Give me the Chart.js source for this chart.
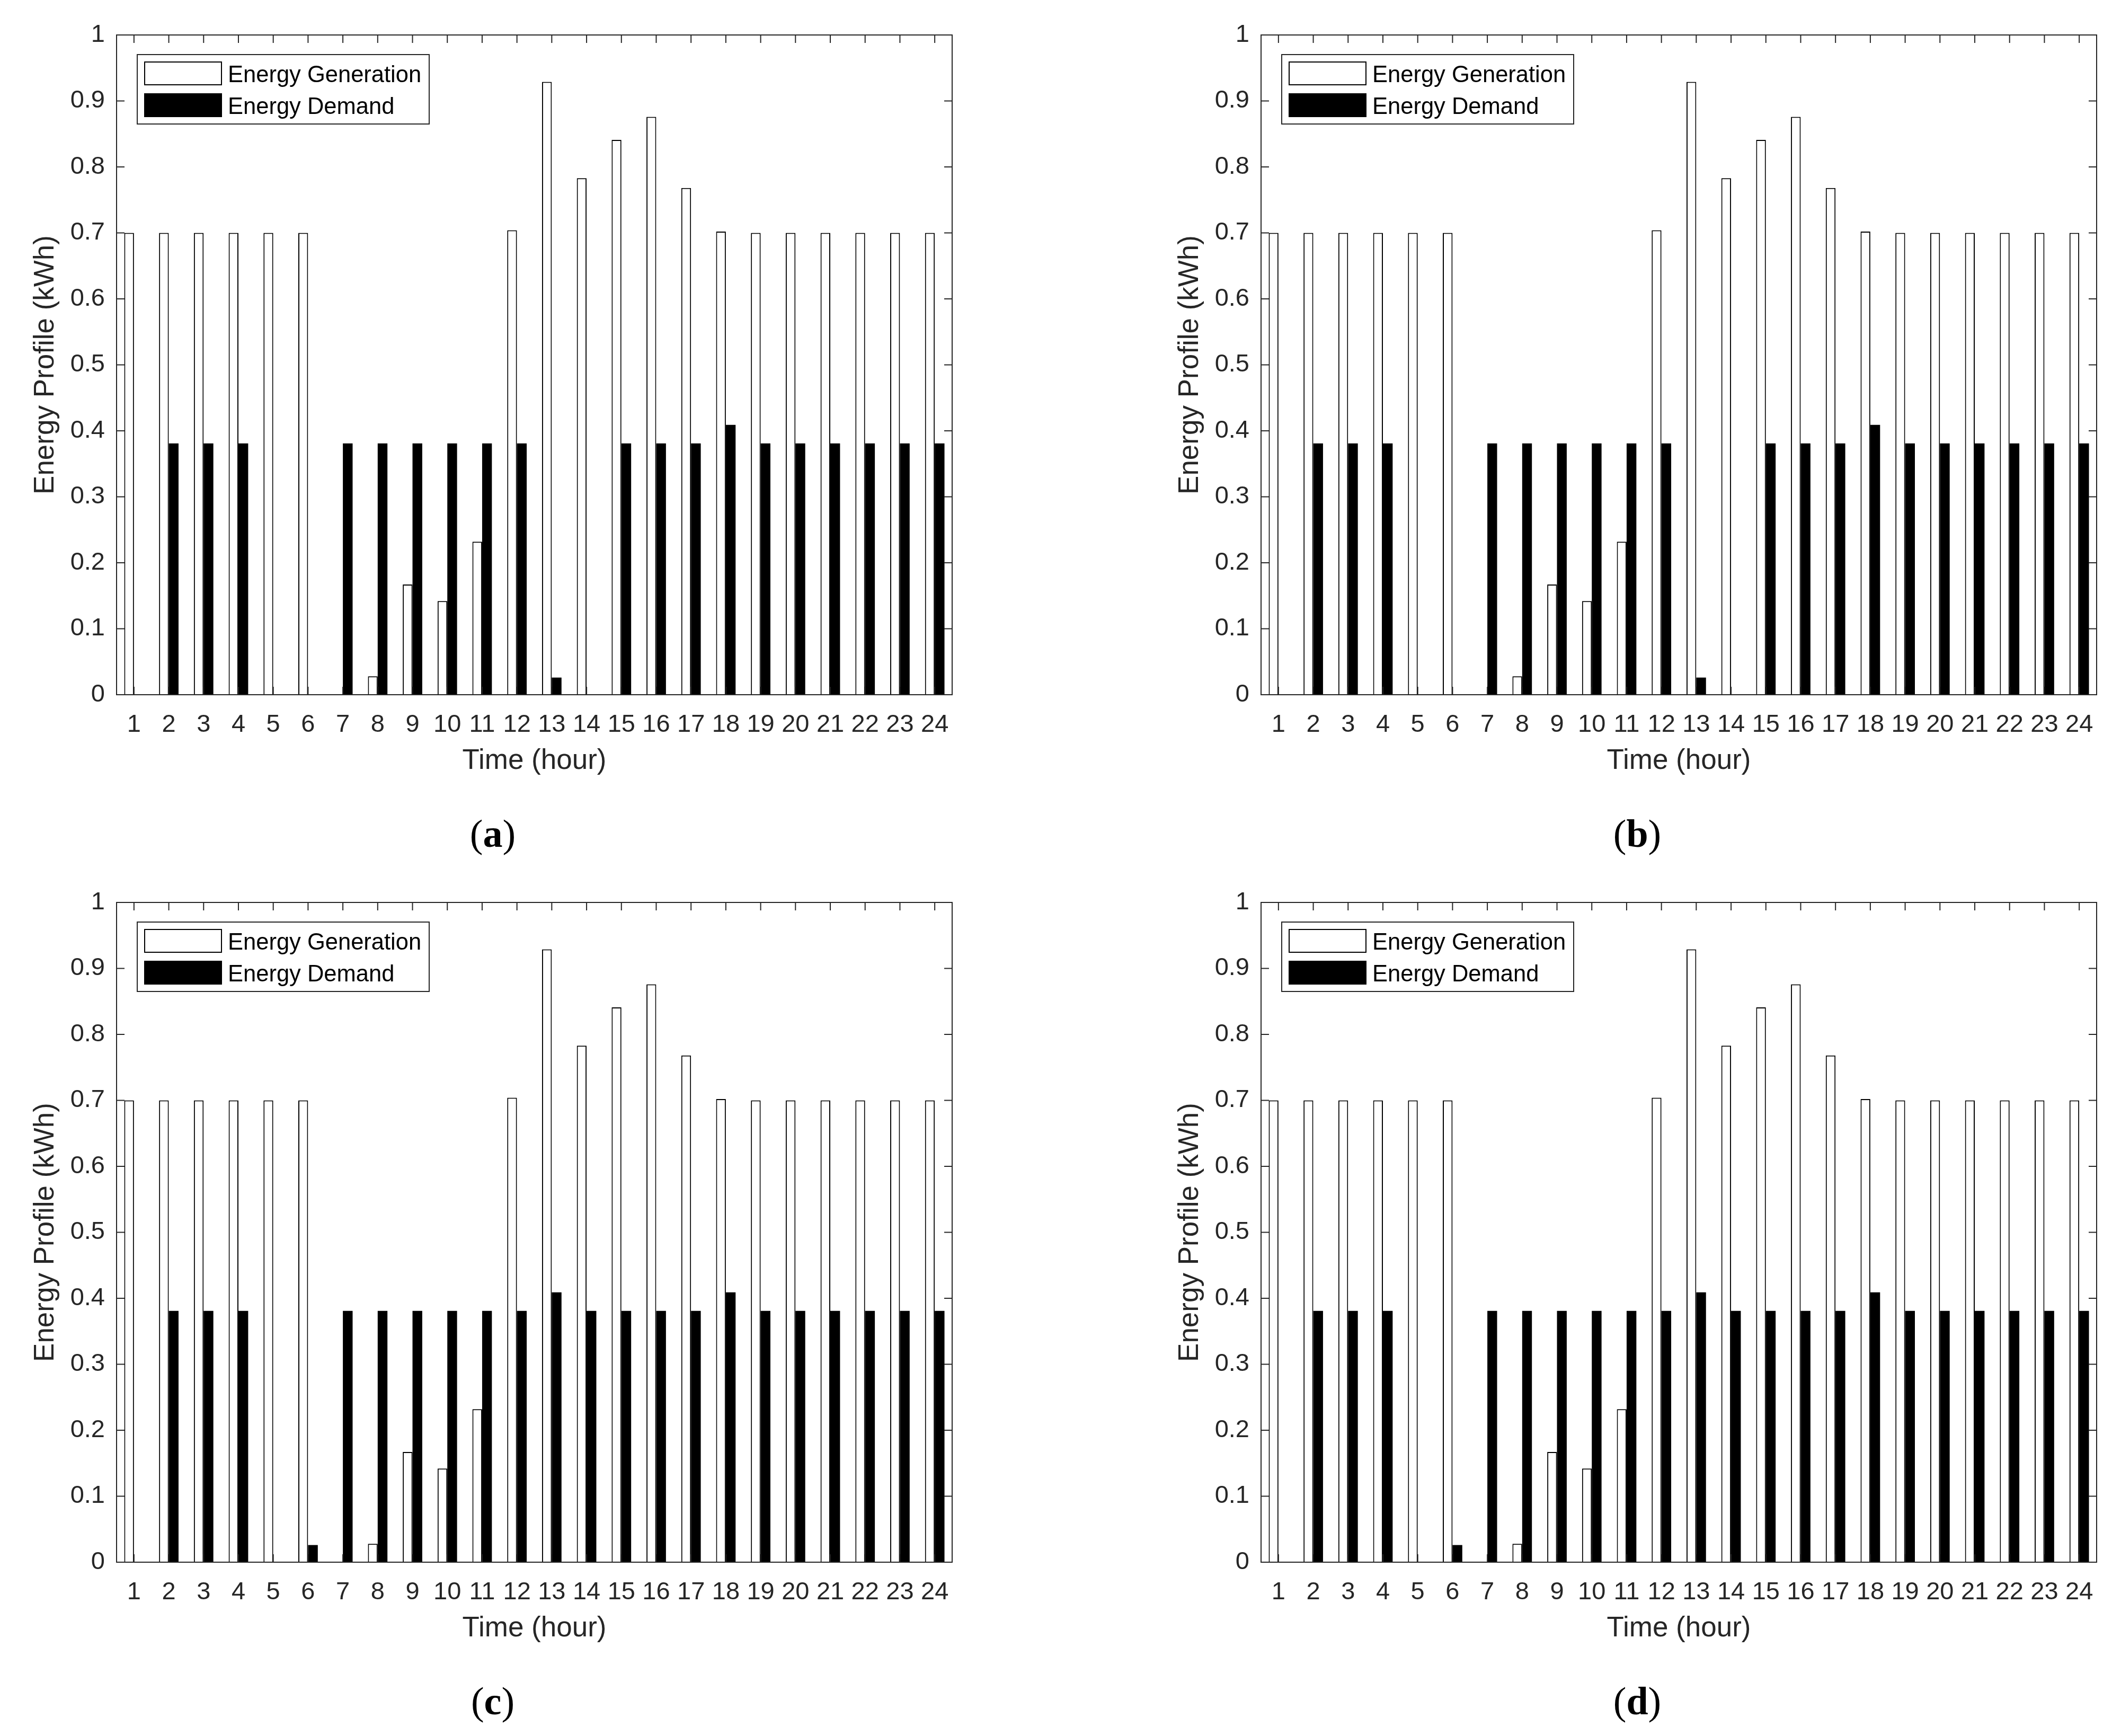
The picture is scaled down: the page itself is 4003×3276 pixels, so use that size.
<!DOCTYPE html>
<html><head><meta charset="utf-8">
<script src="https://cdn.jsdelivr.net/npm/chart.js@4.4.1/dist/chart.umd.min.js"></script>
<style>
html,body{margin:0;padding:0;background:#fff;}
body{width:4003px;height:3276px;position:relative;overflow:hidden;}
canvas{position:absolute;}
.sub{position:absolute;width:400px;height:80px;text-align:center;font-family:'Liberation Serif','Times New Roman',serif;font-size:74px;line-height:80px;color:#000;}
.sub b{font-weight:bold;}
</style></head><body>
<canvas id="pa" width="1843" height="1640" style="left:0;top:0"></canvas>
<canvas id="pb" width="1843" height="1640" style="left:2160px;top:0"></canvas>
<canvas id="pc" width="1843" height="1640" style="left:0;top:1637px"></canvas>
<canvas id="pd" width="1843" height="1640" style="left:2160px;top:1637px"></canvas>
<div class="sub" style="left:730px;top:1533px">(<b>a</b>)</div>
<div class="sub" style="left:2890px;top:1533px">(<b>b</b>)</div>
<div class="sub" style="left:730px;top:3170px">(<b>c</b>)</div>
<div class="sub" style="left:2890px;top:3170px">(<b>d</b>)</div>
<script>
// ---- data ----
const hours = ['1','2','3','4','5','6','7','8','9','10','11','12','13','14','15','16','17','18','19','20','21','22','23','24'];
const generation = [0.70,0.70,0.70,0.70,0.70,0.70,0,0.028,0.167,0.142,0.232,0.704,0.929,0.783,0.841,0.876,0.768,0.702,0.70,0.70,0.70,0.70,0.70,0.70];
const demandA = [0,0.381,0.381,0.381,0,0,0.381,0.381,0.381,0.381,0.381,0.381,0.026,0,0.381,0.381,0.381,0.409,0.381,0.381,0.381,0.381,0.381,0.381];
const demandB = [0,0.381,0.381,0.381,0,0,0.381,0.381,0.381,0.381,0.381,0.381,0.026,0,0.381,0.381,0.381,0.409,0.381,0.381,0.381,0.381,0.381,0.381];
const demandC = [0,0.381,0.381,0.381,0,0.026,0.381,0.381,0.381,0.381,0.381,0.381,0.409,0.381,0.381,0.381,0.381,0.409,0.381,0.381,0.381,0.381,0.381,0.381];
const demandD = [0,0.381,0.381,0.381,0,0.026,0.381,0.381,0.381,0.381,0.381,0.381,0.409,0.381,0.381,0.381,0.381,0.409,0.381,0.381,0.381,0.381,0.381,0.381];
const yTickLabels = ['0','0.1','0.2','0.3','0.4','0.5','0.6','0.7','0.8','0.9','1'];
const seriesNames = ['Energy Generation','Energy Demand'];
const xTitle = 'Time (hour)';
const yTitle = 'Energy Profile (kWh)';

const FAMILY = '"Liberation Sans", Arial, Helvetica, sans-serif';
const AXC = '#262626';

const matlabAxes = {
  id: 'matlabAxes',
  afterDatasetsDraw(chart) {
    const {ctx, chartArea: a, scales: {x, y}} = chart;
    const L = 15;
    ctx.save();
    ctx.strokeStyle = AXC;
    ctx.lineWidth = 2;
    ctx.beginPath();
    x.ticks.forEach((t, i) => {
      const px = x.getPixelForTick(i);
      ctx.moveTo(px, a.bottom); ctx.lineTo(px, a.bottom - L);
      ctx.moveTo(px, a.top); ctx.lineTo(px, a.top + L);
    });
    y.ticks.forEach((t) => {
      const py = y.getPixelForValue(t.value);
      ctx.moveTo(a.left, py); ctx.lineTo(a.left + L, py);
      ctx.moveTo(a.right, py); ctx.lineTo(a.right - L, py);
    });
    ctx.stroke();
    ctx.strokeRect(a.left, a.top, a.right - a.left, a.bottom - a.top);
    ctx.restore();
  }
};

const boxLegend = {
  id: 'boxLegend',
  afterDraw(chart) {
    const {ctx, chartArea: a} = chart;
    const x0 = a.left + 39, y0 = a.top + 37, w = 551, h = 131;
    ctx.save();
    ctx.fillStyle = '#fff'; ctx.fillRect(x0, y0, w, h);
    ctx.strokeStyle = AXC; ctx.lineWidth = 2; ctx.strokeRect(x0, y0, w, h);
    ctx.font = '43.5px ' + FAMILY;
    ctx.textBaseline = 'middle'; ctx.textAlign = 'left';
    chart.data.datasets.forEach((ds, i) => {
      const sy = y0 + 14 + i * 60;
      ctx.fillStyle = ds.backgroundColor; ctx.fillRect(x0 + 14, sy, 145, 43);
      ctx.strokeStyle = '#000'; ctx.lineWidth = 2; ctx.strokeRect(x0 + 14, sy, 145, 43);
      ctx.fillStyle = '#000'; ctx.fillText(ds.label, x0 + 171, sy + 26);
    });
    ctx.restore();
  }
};

function makeChart(id, demand) {
  return new Chart(document.getElementById(id), {
    type: 'bar',
    data: {
      labels: hours,
      datasets: [
        {label: seriesNames[0], data: generation, backgroundColor: '#ffffff', borderColor: '#000000', borderWidth: 2,
         categoryPercentage: 0.56, barPercentage: 1.0},
        {label: seriesNames[1], data: demand, backgroundColor: '#000000', borderColor: '#000000', borderWidth: 0,
         categoryPercentage: 0.56, barPercentage: 1.0}
      ]
    },
    options: {
      responsive: false, animation: false, devicePixelRatio: 1,
      layout: {padding: {left: 0, top: 66, right: 46, bottom: 169}},
      plugins: {legend: {display: false}, tooltip: {enabled: false}},
      scales: {
        x: {
          type: 'category', offset: true,
          grid: {display: false, drawTicks: false}, border: {display: false},
          ticks: {color: AXC, font: {family: FAMILY, size: 47}, padding: 29, maxRotation: 0, minRotation: 0, autoSkip: false},
          title: {display: true, text: xTitle, color: AXC, font: {family: FAMILY, size: 53}, padding: {top: 0, bottom: 3}},
          afterFit(s) { s.height = 160; }
        },
        y: {
          min: 0, max: 1,
          grid: {display: false, drawTicks: false}, border: {display: false},
          ticks: {stepSize: 0.1, color: AXC, font: {family: FAMILY, size: 47}, padding: 22,
                  callback: (v) => yTickLabels[Math.round(v * 10)]},
          title: {display: true, text: yTitle, color: AXC, font: {family: FAMILY, size: 53}, padding: {top: 55, bottom: 0}},
          afterFit(s) { s.width = 220; }
        }
      }
    },
    plugins: [matlabAxes, boxLegend]
  });
}

makeChart('pa', demandA);
makeChart('pb', demandB);
makeChart('pc', demandC);
makeChart('pd', demandD);
</script>
</body></html>
